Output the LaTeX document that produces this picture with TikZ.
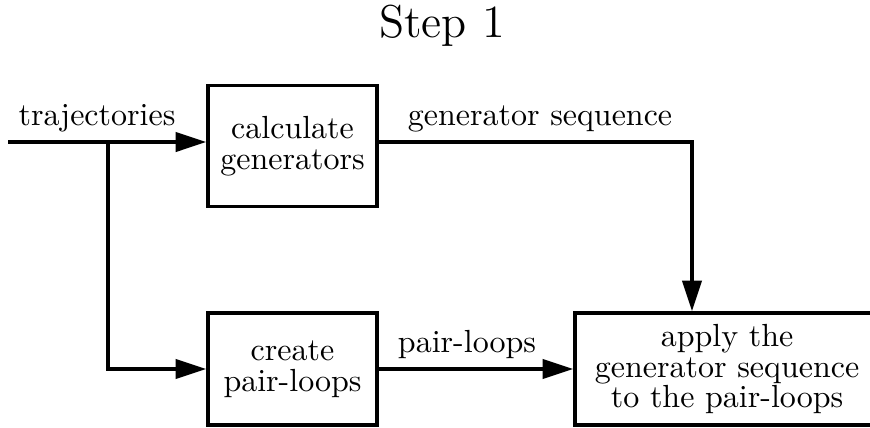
\documentclass[tikz,border=0pt]{standalone}
\usetikzlibrary{arrows.meta}
\tikzset{
	stepbox/.style={draw, line width=1.2pt, align=center, inner sep=0pt,
		font=\fontsize{10}{9.6}\selectfont},
	flow/.style={line width=1pt, -{Triangle[length=9.5pt,width=6pt]}},
	lbl/.style={above, inner sep=3pt}
}
\begin{document}
\begin{tikzpicture}
	\useasboundingbox (0,0) rectangle (9.555,-4.690);
	\clip (0,0) rectangle (9.555,-4.690);
	\node[font=\Large] (title) at (4.854,-0.286) {Step 1};
	% boxes
	\node[stepbox, minimum width=52.8pt, minimum height=37.8pt] (calc) at (3.213,-1.603) {calculate\\generators};
	\node[stepbox, minimum width=52.8pt, minimum height=35pt] (create) at (3.213,-4.053) {create\\pair-loops};
	\node[stepbox, minimum width=95pt, minimum height=35pt] (apply) at (7.985,-4.053) {apply the\\generator sequence\\to the pair-loops};
	\coordinate (in) at (0.088,-1.560);
	\coordinate (split) at (1.186,-1.560);
	\coordinate (turn) at (7.600,-1.560);
	% connectors
	\draw[flow] (in) -- (in -| calc.west);
	\draw[flow] (split) |- (create.west);
	\draw[flow] (calc.east |- turn) -- (turn) -- (turn |- apply.north);
	\draw[flow] (create.east) -- (apply.west);
	% labels
	\node[lbl] (trajlbl) at (1.065,-1.560) {trajectories};
	\node[lbl] (genlbl) at (5.931,-1.560) {generator sequence};
	\node[lbl] (pairlbl) at (5.129,-4.053) {pair-loops};
\end{tikzpicture}
\end{document}
